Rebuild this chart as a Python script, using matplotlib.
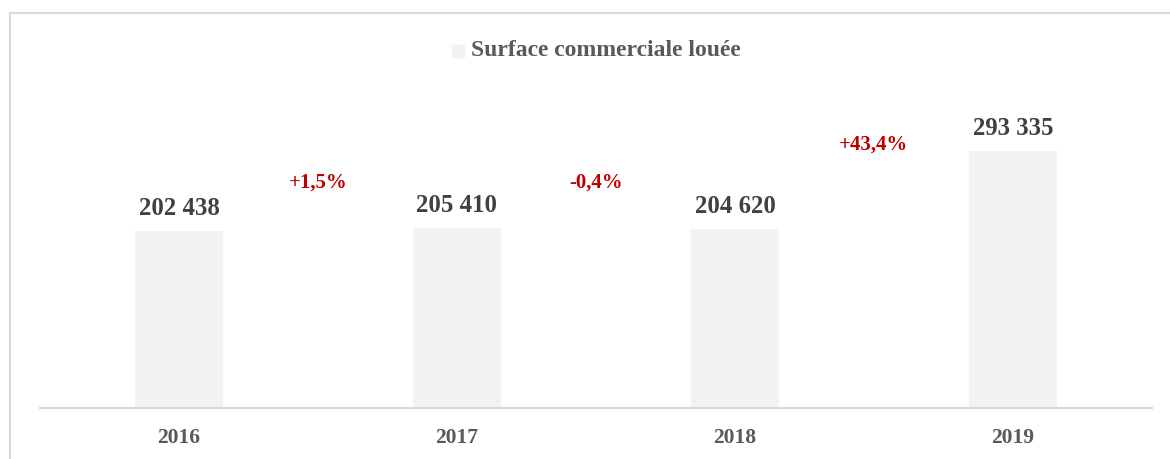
import matplotlib.pyplot as plt
from matplotlib.patches import Rectangle
from matplotlib.lines import Line2D

years = ['2016', '2017', '2018', '2019']
surface = [202438, 205410, 204620, 293335]
value_labels = ['202 438', '205 410', '204 620', '293 335']
pct_labels = ['+1,5%', '-0,4%', '+43,4%']
pct_heights = [258000, 258000, 301300]

W, H = 1170, 460
fig = plt.figure(figsize=(W / 100, H / 100), dpi=100)
plt.rcParams['font.family'] = ['Liberation Serif', 'DejaVu Serif']

# axes: baseline at y=409, top at y=60, x from 40 to 1152
ax = fig.add_axes([40 / W, 1 - 409 / H, 1112 / W, 349 / H])
ymax = 349 / (257 / 293335)

ax.bar(range(len(years)), surface, width=0.313, color='#f2f2f2')
ax.set_xlim(-0.5, len(years) - 0.5)
ax.set_ylim(0, ymax)

for s in ['top', 'right', 'left']:
    ax.spines[s].set_visible(False)
ax.spines['bottom'].set_color('#d9d9d9')
ax.spines['bottom'].set_linewidth(1.5)
ax.set_yticks([])
ax.set_xticks(range(len(years)))
ax.set_xticklabels(years, fontsize=15.5, fontweight='bold', color='#595959')
ax.tick_params(axis='x', length=0, pad=14)

for i, v in enumerate(surface):
    ax.annotate(value_labels[i], (i, v), xytext=(0, 17), textcoords='offset points',
                ha='center', va='center', fontsize=17.8, fontweight='bold', color='#404040')

for i, lab in enumerate(pct_labels):
    ax.text(i + 0.5, pct_heights[i], lab, ha='center', va='center',
            fontsize=15, fontweight='bold', color='#c00000')

# legend
fig.patches.append(Rectangle((452 / W, 1 - 58 / H), 12 / W, 12 / H,
                             transform=fig.transFigure, color='#f2f2f2'))
fig.text(471 / W, 1 - 51 / H, 'Surface commerciale louée', ha='left', va='center',
         fontsize=17, fontweight='bold', color='#595959')

# chart border
fig.lines.append(Line2D([10 / W, 10 / W], [0, 1 - 14 / H], transform=fig.transFigure,
                        color='#d9d9d9', linewidth=1.5))
fig.lines.append(Line2D([10 / W, 1], [1 - 14 / H, 1 - 14 / H], transform=fig.transFigure,
                        color='#d9d9d9', linewidth=1.5))

fig.savefig('out.png', dpi=100)
